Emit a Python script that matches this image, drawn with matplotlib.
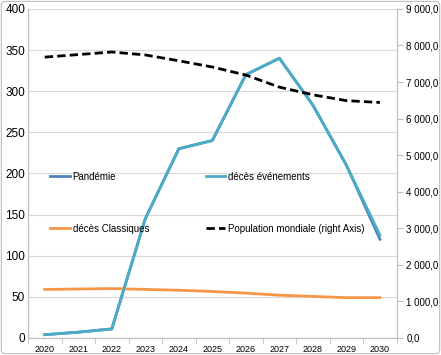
import matplotlib.pyplot as plt
from matplotlib.ticker import FuncFormatter, FixedLocator
from matplotlib.patches import FancyBboxPatch

plt.rcParams["font.family"] = ["Liberation Sans", "DejaVu Sans"]

years = ["2020", "2021", "2022", "2023", "2024", "2025", "2026", "2027", "2028", "2029", "2030"]
pandemie = [4, 7, 11, 145, 230, 240, 320, 340, 283, 210, 120]
deces_evenements = [4, 7, 11, 145, 230, 240, 320, 340, 283, 210, 125]
deces_classiques = [59, 59.5, 60, 59, 58, 56.5, 54.5, 52, 50.5, 49, 49]
population = [7680, 7750, 7820, 7740, 7580, 7410, 7190, 6860, 6650, 6490, 6440]

x = list(range(len(years)))

fig = plt.figure(figsize=(4.41, 3.55), dpi=100)
ax = fig.add_axes([0.0635, 0.048, 0.836, 0.927])
ax2 = ax.twinx()

grid_c = "#d9d9d9"
ax.set_ylim(0, 400)
ax.set_yticks(range(0, 401, 50))
ax.yaxis.grid(True, color=grid_c, linewidth=0.8)
ax.set_axisbelow(True)
ax.set_xlim(-0.5, 10.5)
ax.set_xticks(x)
ax.set_xticklabels(years, fontsize=6.5)
ax.xaxis.set_minor_locator(FixedLocator([i - 0.5 for i in range(12)]))
ax.tick_params(axis="x", which="major", length=0, pad=5)
ax.tick_params(axis="x", which="minor", length=4, color="#bfbfbf")
ax.tick_params(axis="y", length=0, labelsize=8.5, pad=2)

ax2.set_ylim(0, 9000)
ax2.set_yticks(range(0, 9001, 1000))
ax2.yaxis.set_major_formatter(FuncFormatter(lambda v, p: f"{int(v):,}".replace(",", " ") + ",0"))
ax2.tick_params(axis="y", length=4, color="#bfbfbf", labelsize=7, pad=3)

for a in (ax, ax2):
    a.spines["top"].set_visible(False)
    for s in ("left", "right", "bottom"):
        a.spines[s].set_color("#bfbfbf")
        a.spines[s].set_linewidth(0.8)

l1, = ax.plot(x, pandemie, color="#4F81BD", linewidth=2, label="Pandémie")
l3, = ax.plot(x, deces_classiques, color="#F79646", linewidth=2, label="décès Classiques")
l2, = ax.plot(x, deces_evenements, color="#4BACC6", linewidth=2, label="décès événements")
l4, = ax2.plot(x, population, color="black", linewidth=2, linestyle=(0, (3, 1.5)),
               label="Population mondiale (right Axis)")

ax2.legend(handles=[l1, l3, l2, l4], ncol=2, loc="upper left", bbox_to_anchor=(0.05, 0.517),
           frameon=False, fontsize=7, handlelength=2.0, handletextpad=0.3,
           labelspacing=4.3, columnspacing=5.8, borderaxespad=0)

fig.patches.append(FancyBboxPatch((0.003, 0.004), 0.994, 0.992, boxstyle="round,pad=0,rounding_size=0.01",
                                  transform=fig.transFigure, fill=False, edgecolor="#bfbfbf", linewidth=0.8))

fig.savefig("out.png", dpi=100)
